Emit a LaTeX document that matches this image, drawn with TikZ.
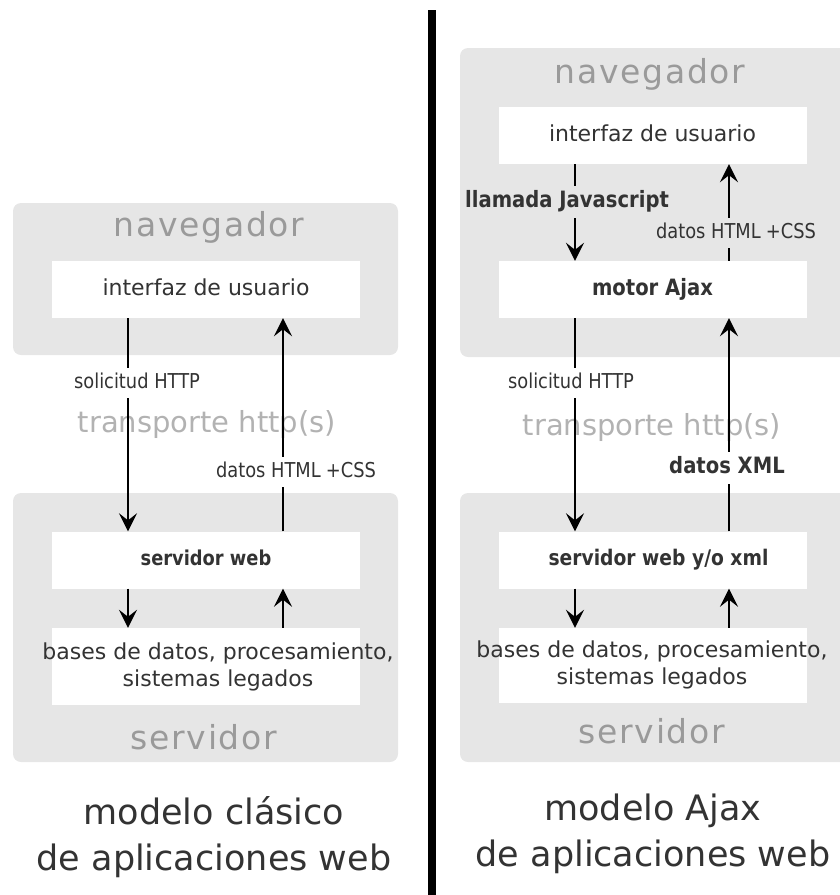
\documentclass[tikz,border=0pt]{standalone}
\usepackage{fontspec}
\setmainfont{DejaVu Sans}
\newfontfamily\condfont[FakeStretch=0.87]{DejaVu Sans}
\newfontfamily\tagfont[LetterSpace=5]{DejaVu Sans}
\usepackage{tikz}
\usetikzlibrary{arrows.meta}

\definecolor{boxgray}{HTML}{E6E6E6}
\definecolor{taggray}{HTML}{9A9A9A}
\definecolor{fargray}{HTML}{B2B2B2}
\definecolor{ink}{HTML}{333333}

\tikzset{
  graybox/.style={fill=boxgray, rounded corners=8pt, minimum width=385pt, inner sep=0pt},
  whitebox/.style={fill=white, minimum width=308pt, minimum height=57pt, inner sep=0pt, text=ink,
    text height=16.5pt, text depth=5.5pt, font=\fontsize{22}{27}\selectfont},
  boldbox/.style={whitebox, text height=15.5pt, text depth=5pt, font=\condfont\bfseries\fontsize{20.5}{25}\selectfont},
  boxtext/.style={text=ink, align=center, inner sep=0pt, font=\fontsize{22}{27}\selectfont},
  tag/.style={text=taggray, inner sep=0pt, text height=24.75pt, text depth=8.25pt, font=\tagfont\fontsize{33}{40}\selectfont},
  far/.style={text=fargray, inner sep=0pt, text height=21.75pt, text depth=7.25pt, font=\fontsize{29}{35}\selectfont},
  lab/.style={text=ink, inner xsep=0pt, inner ysep=5pt, text height=15.4pt, text depth=5.1pt,
    font=\condfont\fontsize{20.5}{24}\selectfont},
  boldlab/.style={lab, text height=16.9pt, text depth=5.6pt, font=\condfont\bfseries\fontsize{22.5}{27}\selectfont},
  title/.style={text=ink, align=center, inner sep=0pt, font=\fontsize{35}{46}\selectfont},
  seg/.style={line width=2.2pt},
  flow/.style={line width=2.2pt, -{Stealth[length=18pt,width=18pt,inset=7pt]}},
}

\begin{document}
\begin{tikzpicture}[x=1pt, y=-1pt]
\useasboundingbox (0,0) rectangle (840,895);
\clip (0,0) rectangle (840,895);

\coordinate (a1) at (128,0);
\coordinate (b1) at (283,0);
\coordinate (a2) at (575,0);
\coordinate (b2) at (729,0);

% modelo clasico
\node[graybox, minimum height=152pt] (nav1) at (205.5,279) {};
\node[tag] (navtag1) at (209,228) {navegador};
\node[whitebox] (ui1) at (206,289.5) {interfaz de usuario};
\node[graybox, minimum height=269pt] (srv1) at (205.5,627.5) {};
\node[boldbox] (web1) at (206,560) {servidor web};
\node[whitebox, minimum height=77pt] (db1) at (206,666.5) {};
\node[boxtext] (dbtxt1) at (218,666.5) {bases de datos, procesamiento,\\sistemas legados};
\node[tag] (srvtag1) at (204,741) {servidor};
\node[far] (trans1) at (207,425) {transporte http(s)};
\node[lab] (req1) at (137,383) {solicitud HTTP};
\node[lab] (resp1) at (296,472) {datos HTML\hspace{.25em}+CSS};

\draw[seg] (ui1.south -| a1) -- (req1.north -| a1);
\draw[flow] (req1.south -| a1) -- (web1.north -| a1);
\draw[seg] (web1.north -| b1) -- (resp1.south -| b1);
\draw[flow] (resp1.north -| b1) -- (ui1.south -| b1);
\draw[flow] (web1.south -| a1) -- (db1.north -| a1);
\draw[flow] (db1.north -| b1) -- (web1.south -| b1);

\node[title] (cap1) at (214,837) {modelo clásico\\de aplicaciones web};

% modelo Ajax
\node[graybox, minimum width=388pt, minimum height=309pt] (nav2) at (654,202.5) {};
\node[tag] (navtag2) at (650,75) {navegador};
\node[whitebox] (ui2) at (652.5,135.5) {interfaz de usuario};
\node[boldbox, text height=16.9pt, text depth=5.6pt, font=\condfont\bfseries\fontsize{22.5}{27}\selectfont] (ajax) at (652.5,289.5) {motor Ajax};
\node[graybox, minimum width=388pt, minimum height=269pt] (srv2) at (654,627.5) {};
\node[boldbox, font=\condfont\bfseries\fontsize{21.5}{26}\selectfont] (web2) at (652.5,560) {\hspace{12pt}servidor web y/o xml};
\node[whitebox, minimum height=75pt] (db2) at (652.5,665.5) {};
\node[boxtext] (dbtxt2) at (652,665) {bases de datos, procesamiento,\\sistemas legados};
\node[tag] (srvtag2) at (652,735) {servidor};
\node[far] (trans2) at (652,428) {transporte http(s)};
\node[boldlab] (call) at (567,202) {llamada Javascript};
\node[lab] (resp2) at (736,233) {datos HTML\hspace{.25em}+CSS};
\node[lab] (req2) at (571,383) {solicitud HTTP};
\node[boldlab] (xml) at (727,468) {datos XML};

\draw[seg] (ui2.south -| a2) -- (call.north -| a2);
\draw[flow] (call.south -| a2) -- (ajax.north -| a2);
\draw[seg] (ajax.north -| b2) -- (resp2.south -| b2);
\draw[flow] (resp2.north -| b2) -- (ui2.south -| b2);
\draw[seg] (ajax.south -| a2) -- (req2.north -| a2);
\draw[flow] (req2.south -| a2) -- (web2.north -| a2);
\draw[seg] (web2.north -| b2) -- (xml.south -| b2);
\draw[flow] (xml.north -| b2) -- (ajax.south -| b2);
\draw[flow] (web2.south -| a2) -- (db2.north -| a2);
\draw[flow] (db2.north -| b2) -- (web2.south -| b2);

\node[title] (cap2) at (653,834) {modelo Ajax\\de aplicaciones web};

% separador
\coordinate (sepTop) at (432,10);
\coordinate (sepBot) at (432,900);
\draw[line width=8pt] (sepTop) -- (sepBot);
\end{tikzpicture}
\end{document}
